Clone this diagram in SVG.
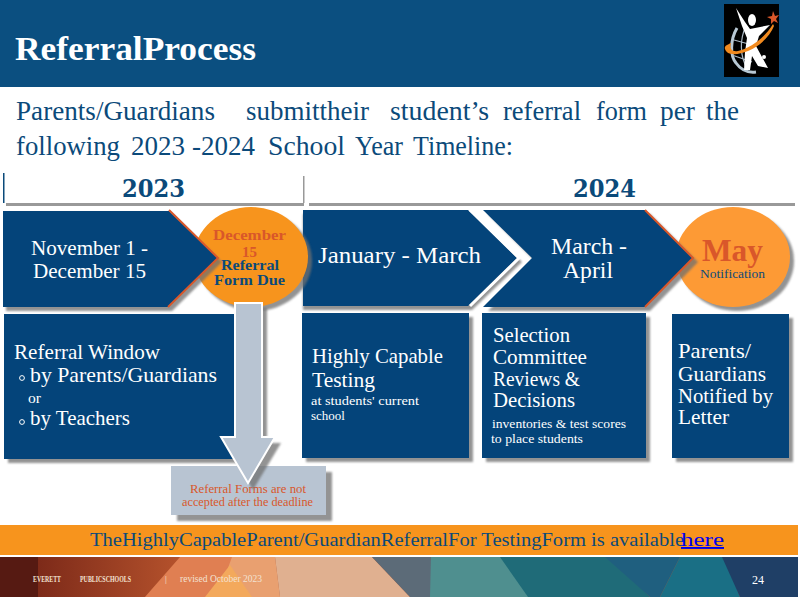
<svg xmlns="http://www.w3.org/2000/svg" width="800" height="600" viewBox="0 0 800 600">
<style>
.s{font-family:"Liberation Serif","DejaVu Serif",serif}
.w{fill:#fff}
.n{fill:#0b4a7a}
.o{fill:#d9572a}
.b{fill:#04447a}
.sh{fill:#6f6f6f;filter:url(#blur);opacity:.75}
.edge{fill:none;stroke:#d9572a;stroke-width:2}
</style>
<defs>
<filter id="blur" x="-10%" y="-10%" width="120%" height="120%"><feGaussianBlur stdDeviation="1.2"/></filter>
<linearGradient id="rust" x1="0" x2="1" y1="0" y2="0"><stop offset="0" stop-color="#7a2818"/><stop offset="1" stop-color="#b5522c"/></linearGradient>
</defs>
<rect width="800" height="600" fill="#fff"/>
<g id="header">
<rect width="800" height="87" fill="#0b4f80"/>
<text class="s w" x="15" y="60" font-size="34" font-weight="700" textLength="241" lengthAdjust="spacingAndGlyphs">ReferralProcess</text>
</g>
<g id="logo">
<rect x="724" y="4" width="55" height="73" fill="#000"/>
<path d="M737 28C730 40 730 56 736 63C741 70 748 73 756 72" fill="none" stroke="#b8c8d4" stroke-width="3"/>
<path d="M746 26C740 38 739 56 748 70M734 40L756 46M732 55L752 62" fill="none" stroke="#aab8c4" stroke-width="1.2"/>
<path d="M736 8L745 22L750 29L770 25L759 36L756 46L768 68L758 66L752 56L750 70L744 70L745 52L747 38L742 26Z" fill="#fff"/>
<ellipse cx="752" cy="20" rx="4" ry="6" fill="#fff"/>
<circle cx="764" cy="57" r="2" fill="#fff"/>
<path d="M773 24C766 36 752 48 738 51C733 52 729 50 731 43C727 45 724 46 725 49C727 56 738 55 748 51C760 46 770 36 774 26Z" fill="#f28a1e"/>
<path d="M773 11L775 16L779 15L776 19L778 23L774 21L771 24L771 19L767 17L772 16Z" fill="#d9572a"/>
</g>
<g id="intro" class="s" font-size="27" fill="#0b4a7a">
<text x="16" y="120" textLength="199" lengthAdjust="spacingAndGlyphs">Parents/Guardians</text>
<text x="246" y="120" textLength="123" lengthAdjust="spacingAndGlyphs">submittheir</text>
<text x="390" y="120" textLength="99" lengthAdjust="spacingAndGlyphs">student’s</text>
<text x="503" y="120" textLength="78" lengthAdjust="spacingAndGlyphs">referral</text>
<text x="596" y="120" textLength="51" lengthAdjust="spacingAndGlyphs">form</text>
<text x="660" y="120" textLength="35" lengthAdjust="spacingAndGlyphs">per</text>
<text x="706" y="120" textLength="33" lengthAdjust="spacingAndGlyphs">the</text>
<text x="16" y="155" textLength="104" lengthAdjust="spacingAndGlyphs">following</text>
<text x="131" y="155" textLength="54" lengthAdjust="spacingAndGlyphs">2023</text>
<text x="192" y="155" textLength="63" lengthAdjust="spacingAndGlyphs">-2024</text>
<text x="268" y="155" textLength="77" lengthAdjust="spacingAndGlyphs">School</text>
<text x="355" y="155" textLength="48" lengthAdjust="spacingAndGlyphs">Year</text>
<text x="413" y="155" textLength="100" lengthAdjust="spacingAndGlyphs">Timeline:</text>
</g>
<g id="years">
<rect x="6" y="203" width="298" height="3" fill="#999"/>
<rect x="309" y="203" width="486" height="3" fill="#999"/>
<rect x="3" y="173" width="1.5" height="30" fill="#0b4a7a"/>
<rect x="303" y="176" width="1.5" height="27" fill="#999"/>
<text x="122" y="197" font-family="DejaVu Serif,serif" font-size="24" font-weight="700" class="n" textLength="63" lengthAdjust="spacingAndGlyphs">2023</text>
<text x="573" y="197" font-family="DejaVu Serif,serif" font-size="24" font-weight="700" class="n" textLength="63" lengthAdjust="spacingAndGlyphs">2024</text>
</g>
<g id="step-jan">
<path class="sh" d="M303 214H472L522 262L472 310H303Z"/>
<path d="M303 210H468L517 258L468 306H303Z" fill="#04447a"/>
<path d="M470 210L519 258L470 306" fill="none" stroke="#fff" stroke-width="3"/>
<text class="s w" x="318" y="263" font-size="24" textLength="163" lengthAdjust="spacingAndGlyphs">January - March</text>
</g>
<g id="step-may">
<ellipse class="sh" cx="737" cy="261" rx="57" ry="50"/>
<ellipse cx="733" cy="257" rx="57" ry="50" fill="#fd9a35"/>
<text class="s o" x="702" y="261" font-size="32" font-weight="700" textLength="61" lengthAdjust="spacingAndGlyphs">May</text>
<text class="s n" x="700" y="278" font-size="13" textLength="65" lengthAdjust="spacingAndGlyphs">Notification</text>
</g>
<g id="step-mar">
<path class="sh" d="M488 214H650L698 262L650 311H488L536 262Z"/>
<path d="M483 210H645L693 258L645 307H483L532 258Z" class="b"/>
<path class="edge" d="M645 210L693 258L645 307"/>
<text class="s w" x="551" y="254" font-size="24" textLength="76" lengthAdjust="spacingAndGlyphs">March -</text>
<text class="s w" x="563" y="278" font-size="24" textLength="50" lengthAdjust="spacingAndGlyphs">April</text>
</g>
<g id="step-dec">
<ellipse class="sh" cx="255" cy="261" rx="57" ry="50"/>
<ellipse cx="251" cy="257" rx="57" ry="50" fill="#f7941d"/>
<g class="s" font-size="15" font-weight="700">
<text class="o" x="213" y="240" textLength="73" lengthAdjust="spacingAndGlyphs">December</text>
<text class="o" x="242" y="257" textLength="15" lengthAdjust="spacingAndGlyphs">15</text>
<text class="n" x="221" y="270" textLength="58" lengthAdjust="spacingAndGlyphs">Referral</text>
<text class="n" x="214" y="285" textLength="71" lengthAdjust="spacingAndGlyphs">Form Due</text>
</g>
</g>
<g id="step-nov">
<path class="sh" d="M6 214H172L222 262L172 311H6Z"/>
<path d="M3 211H169L218 258L168 307H3Z" class="b"/>
<path class="edge" d="M169 210L218 258L168 307"/>
<text class="s w" x="31" y="255" font-size="22" textLength="117" lengthAdjust="spacingAndGlyphs">November 1 -</text>
<text class="s w" x="33" y="278" font-size="22" textLength="113" lengthAdjust="spacingAndGlyphs">December 15</text>
</g>
<g id="box-window">
<rect class="sh" x="8" y="318" width="230" height="145"/>
<rect x="4" y="314" width="232" height="145" class="b"/>
<g class="s w">
<text x="14" y="359" font-size="22" textLength="146" lengthAdjust="spacingAndGlyphs">Referral Window</text>
<circle cx="22" cy="378" r="2.4" fill="none" stroke="#fff"/>
<text x="30" y="382" font-size="22" textLength="187" lengthAdjust="spacingAndGlyphs">by Parents/Guardians</text>
<text x="28" y="403" font-size="15" textLength="13" lengthAdjust="spacingAndGlyphs">or</text>
<circle cx="22" cy="422" r="2.4" fill="none" stroke="#fff"/>
<text x="30" y="425" font-size="22" textLength="100" lengthAdjust="spacingAndGlyphs">by Teachers</text>
</g>
</g>
<g id="box-testing">
<rect class="sh" x="306" y="317" width="167" height="145"/>
<rect x="302" y="313" width="167" height="145" class="b"/>
<g class="s w">
<text x="312" y="363" font-size="22" textLength="131" lengthAdjust="spacingAndGlyphs">Highly Capable</text>
<text x="312" y="387" font-size="22" textLength="63" lengthAdjust="spacingAndGlyphs">Testing</text>
<text x="311" y="405" font-size="13" textLength="108" lengthAdjust="spacingAndGlyphs">at students' current</text>
<text x="311" y="420" font-size="13" textLength="34" lengthAdjust="spacingAndGlyphs">school</text>
</g>
</g>
<g id="box-selection">
<rect class="sh" x="486" y="317" width="164" height="145"/>
<rect x="482" y="313" width="164" height="145" class="b"/>
<g class="s w">
<text x="493" y="342" font-size="22" textLength="77" lengthAdjust="spacingAndGlyphs">Selection</text>
<text x="493" y="364" font-size="22" textLength="94" lengthAdjust="spacingAndGlyphs">Committee</text>
<text x="493" y="386" font-size="22" textLength="87" lengthAdjust="spacingAndGlyphs">Reviews &amp;</text>
<text x="493" y="407" font-size="22" textLength="82" lengthAdjust="spacingAndGlyphs">Decisions</text>
<text x="492" y="428" font-size="13" textLength="134" lengthAdjust="spacingAndGlyphs">inventories &amp; test scores</text>
<text x="491" y="443" font-size="13" textLength="92" lengthAdjust="spacingAndGlyphs">to place students</text>
</g>
</g>
<g id="box-letter">
<rect class="sh" x="676" y="318" width="117" height="144"/>
<rect x="672" y="314" width="117" height="144" class="b"/>
<g class="s w" font-size="21">
<text x="678" y="358" textLength="73" lengthAdjust="spacingAndGlyphs">Parents/</text>
<text x="678" y="381" textLength="88" lengthAdjust="spacingAndGlyphs">Guardians</text>
<text x="678" y="403" textLength="95" lengthAdjust="spacingAndGlyphs">Notified by</text>
<text x="678" y="424" textLength="51" lengthAdjust="spacingAndGlyphs">Letter</text>
</g>
</g>
<g id="note">
<rect class="sh" x="177" y="472" width="155" height="49"/>
<rect x="171" y="466" width="155" height="49" fill="#b8c4d2"/>
<text class="s o" x="190" y="493" font-size="12.5" textLength="116" lengthAdjust="spacingAndGlyphs">Referral Forms are not</text>
<text class="s o" x="182" y="506" font-size="12.5" textLength="131" lengthAdjust="spacingAndGlyphs">accepted after the deadline</text>
</g>
<g id="connectors">
<path class="sh" d="M240 308H267V443H281L253 490L225 443H240Z"/>
<path d="M235 303H262V437H275L248 483L221 437H235Z" fill="#b8c4d2" stroke="#fff" stroke-width="2"/>
</g>
<g id="link-bar">
<rect x="0" y="525" width="798" height="30" fill="#f7941d"/>
<text class="s" x="90" y="546" font-size="19" fill="#0b4a7a" textLength="594" lengthAdjust="spacingAndGlyphs">TheHighlyCapableParent/GuardianReferralFor TestingForm is available</text>
<text class="s" x="681" y="546" font-size="19" fill="#0000ee" text-decoration="underline" textLength="43" lengthAdjust="spacingAndGlyphs">here</text>
</g>
<g id="footer">
<rect x="0" y="557" width="798" height="40" fill="#b5572f"/>
<path d="M30 557H180L145 597H30Z" fill="url(#rust)"/>
<path d="M0 557H38V597H0Z" fill="#561a12"/>
<path d="M180 557H232L250 597H145Z" fill="#e07f52"/>
<path d="M232 557L228 568L250 597H280L275 557Z" fill="#e9a070"/>
<path d="M205 597L230 565L252 597Z" fill="#f3a95c"/>
<path d="M275 557H372L410 597H280Z" fill="#e0b090"/>
<path d="M372 557H431V597H410Z" fill="#5c6b78"/>
<path d="M431 557H502L530 597H430Z" fill="#4f8f8f"/>
<path d="M500 557H610L650 597H528Z" fill="#1f6b78"/>
<path d="M605 557H680L660 597H650Z" fill="#1f5f7f"/>
<path d="M680 557H725L740 597H660Z" fill="#1a6f85"/>
<path d="M722 557H798V597H740Z" fill="#1f3f66"/>
<g class="s" fill="#f3e2d2">
<text x="33" y="582" font-size="8" font-weight="700" textLength="28" lengthAdjust="spacingAndGlyphs">EVERETT</text>
<text x="80" y="582" font-size="8" font-weight="700" textLength="51" lengthAdjust="spacingAndGlyphs">PUBLICSCHOOLS</text>
<text x="165" y="582" font-size="9">|</text>
<text x="180" y="582" font-size="9.5" textLength="82" lengthAdjust="spacingAndGlyphs">revised October 2023</text>
<text x="752" y="584" font-size="12" fill="#fff" textLength="12" lengthAdjust="spacingAndGlyphs">24</text>
</g>
</g>
</svg>
